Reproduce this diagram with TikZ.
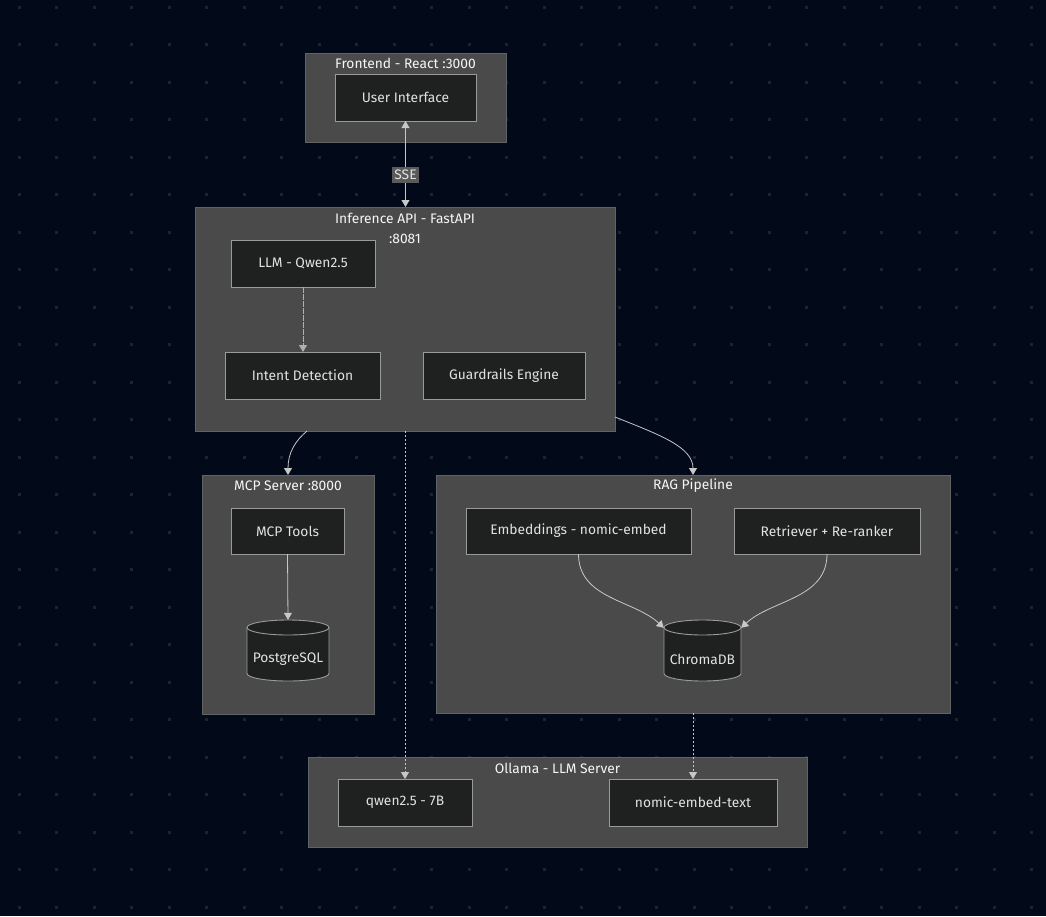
\documentclass[tikz,border=0pt]{standalone}
\usepackage{fontspec}
\setmainfont{Fira Sans}
\usetikzlibrary{arrows.meta,calc}
\definecolor{bgc}{HTML}{020918}
\definecolor{dotc}{HTML}{1E232E}
\definecolor{grpfill}{HTML}{494A49}
\definecolor{grpline}{HTML}{5F6363}
\definecolor{nodefill}{HTML}{1F2020}
\definecolor{nodeline}{HTML}{9A9A9A}
\definecolor{txt}{HTML}{E2E2E2}
\definecolor{ttl}{HTML}{F6F6F6}
\definecolor{edgec}{HTML}{C8C8C8}
\definecolor{ssebg}{HTML}{5A5A5A}
\tikzset{
  grp/.style={draw=grpline, fill=grpfill, line width=0.8pt, inner sep=0pt, outer sep=0pt, anchor=north west},
  gtitle/.style={text=ttl, font=\fontsize{13.8}{20}\selectfont, inner sep=0pt, align=center},
  box/.style={draw=nodeline, fill=nodefill, line width=0.9pt, text=txt, font=\fontsize{13.8}{16}\selectfont, inner sep=0pt, outer sep=0pt},
  dbtext/.style={text=txt, font=\fontsize{13.8}{16}\selectfont, inner sep=0pt},
  cyl/.style={draw=nodeline, fill=nodefill, line width=0.9pt},
  edge/.style={draw=edgec, line width=0.8pt, -{Triangle[width=8pt,length=7pt]}},
  dotedge/.style={edge, dash pattern=on 2pt off 2pt},
  sse/.style={fill=ssebg, text=txt, font=\fontsize{13.8}{16}\selectfont, inner xsep=2pt, inner ysep=3pt}
}
\newcommand\dbcyl[3]{% center coordinate name, half width, half height
  \path[cyl] ($(#1)+(-#2,-#3+7.5)$) -- ($(#1)+(-#2,#3-7.5)$)
    arc[start angle=180,end angle=360,x radius=#2pt,y radius=7.5pt]
    -- ($(#1)+(#2,-#3+7.5)$)
    arc[start angle=0,end angle=180,x radius=#2pt,y radius=7.5pt] -- cycle;
  \draw[draw=nodeline, line width=0.9pt] ($(#1)+(-#2,-#3+7.5)$)
    arc[start angle=180,end angle=360,x radius=#2pt,y radius=7.5pt];
}
\begin{document}
\begin{tikzpicture}[x=1pt,y=-1pt]
\useasboundingbox (0,0) rectangle (1046,916);
\fill[bgc] (0,0) rectangle (1046,916);
\foreach \i in {0,...,27} {
  \foreach \j in {0,...,24} {
    \fill[dotc] ({19+37.5*\i-1.5},{7+37.5*\j-1.5}) rectangle ++(3,3);
  }
}
% groups
\node[grp, minimum width=201, minimum height=89] (fe) at (305,53) {};
\node[grp, minimum width=420, minimum height=224] (inf) at (195,207) {};
\node[grp, minimum width=172, minimum height=239] (mcp) at (202,475) {};
\node[grp, minimum width=514, minimum height=238] (rag) at (436,475) {};
\node[grp, minimum width=499, minimum height=90] (oll) at (308,757) {};
\node[gtitle] (fet) at (405.5,63) {Frontend - React :3000};
\node[gtitle] (inft) at (405,228) {Inference API - FastAPI\\:8081};
\node[gtitle] (mcpt) at (288,486) {MCP Server :8000};
\node[gtitle] (ragt) at (693,486) {RAG Pipeline};
\node[gtitle] (ollt) at (557.5,768) {Ollama - LLM Server};
% nodes
\node[box, minimum width=141, minimum height=47] (ui) at (405.5,97.5) {User Interface};
\node[box, minimum width=144, minimum height=47] (llm) at (303,263.5) {LLM - Qwen2.5};
\node[box, minimum width=155, minimum height=47] (intent) at (302.5,375.5) {Intent Detection};
\node[box, minimum width=162, minimum height=47] (guard) at (504,375.5) {Guardrails Engine};
\node[box, minimum width=113, minimum height=46] (tools) at (287.5,531) {MCP Tools};
\node[box, minimum width=225, minimum height=46] (emb) at (578.5,531) {Embeddings - nomic-embed};
\node[box, minimum width=186, minimum height=46] (ret) at (827,531) {Retriever + Re-ranker};
\node[box, minimum width=134, minimum height=47] (qwen) at (405,802.5) {qwen2.5 - 7B};
\node[box, minimum width=168, minimum height=47] (nomic) at (693,802.5) {nomic-embed-text};
% cylinders
\coordinate (pgc) at (288,650.5);
\dbcyl{pgc}{41}{30.5}
\node[dbtext, minimum width=82, minimum height=61, label={[dbtext, yshift=-9pt]center:PostgreSQL}] (pg) at (288,650.5) {};
\coordinate (chc) at (702.5,650.5);
\dbcyl{chc}{38.5}{30.5}
\node[dbtext, minimum width=77, minimum height=61, label={[dbtext, yshift=-9pt]center:ChromaDB}] (chroma) at (702.5,650.5) {};
% edges
\draw[edge, {Triangle[width=8pt,length=7pt]}-{Triangle[width=8pt,length=7pt]}] (ui.south) -- node[sse, pos=0.63] (ssel) {SSE} (ui.south |- inf.north);
\draw[edge, draw=edgec!80!grpfill, dash pattern=on 6pt off 1pt] (llm.south) -- (llm.south |- intent.north);
\draw[edge] ($(inf.south west)+(112,0)$) .. controls ($(inf.south west)+(100,10)$) and ($(mcp.north)+(0,-22)$) .. (mcp.north);
\draw[edge] ($(inf.north east)+(0,210)$) .. controls ($(inf.north east)+(45,228)$) and ($(rag.north)+(0,-28)$) .. (rag.north);
\draw[dotedge] (inf.south) -- (qwen.north);
\draw[dotedge] (rag.south) -- (nomic.north);
\draw[edge] (tools.south) -- (pg.north);
\draw[edge] (emb.south) .. controls ($(emb.south)+(0,45)$) and ($(chroma.north west)+(-30,-20)$) .. ($(chroma.north west)+(0,8)$);
\draw[edge] (ret.south) .. controls ($(ret.south)+(0,45)$) and ($(chroma.north east)+(30,-20)$) .. ($(chroma.north east)+(0,8)$);
\end{tikzpicture}
\end{document}
